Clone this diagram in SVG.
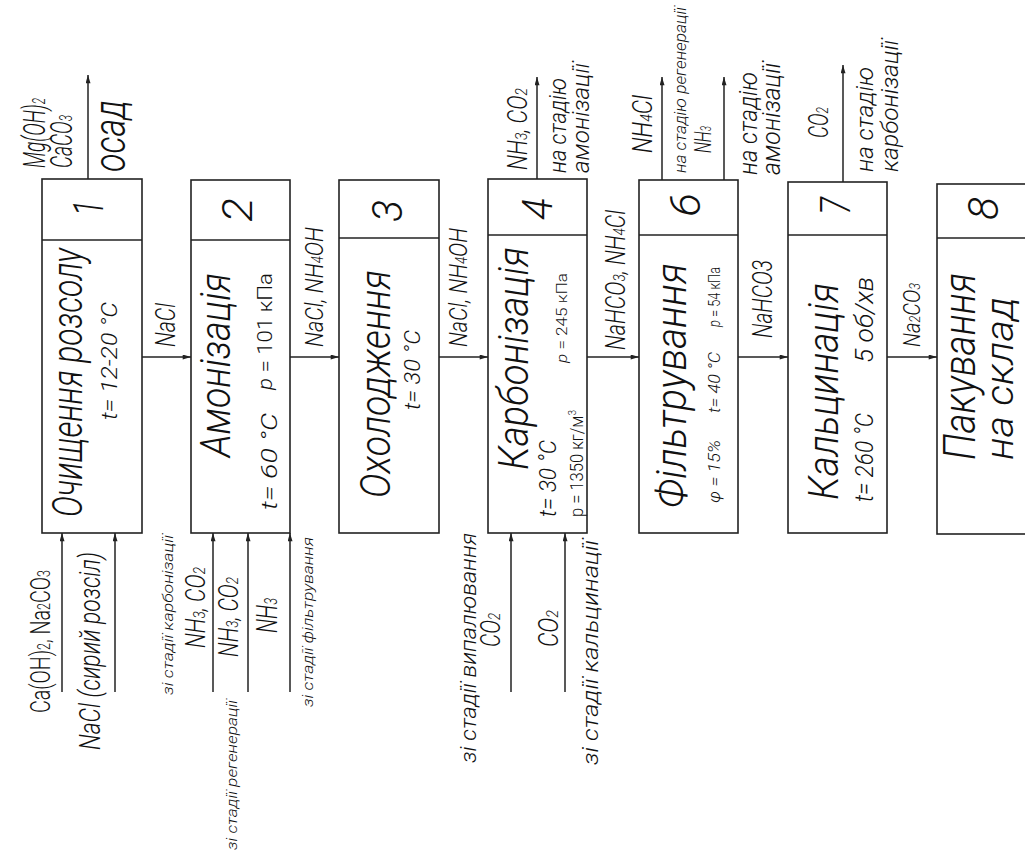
<svg xmlns="http://www.w3.org/2000/svg" width="1025" height="854" viewBox="0 0 1025 854">
<defs>
<style>
.t{font-family:Roboto,"Liberation Sans",Arial,sans-serif;font-weight:300;font-style:italic;fill:#111}
.u{font-family:Roboto,"Liberation Sans",Arial,sans-serif;font-weight:300;font-style:normal;fill:#111}
.b{fill:#fff;stroke:#222;stroke-width:1.6}
.l{stroke:#222;stroke-width:1.5;fill:none}
.c{stroke:#222;stroke-width:1.5;fill:none;marker-end:url(#a)}
</style>
<marker id="a" viewBox="0 0 10 6" refX="10" refY="3" markerWidth="9" markerHeight="5" markerUnits="userSpaceOnUse" orient="auto"><path d="M0,0 L10,3 L0,6 z" fill="#222"/></marker>
</defs>
<rect width="1025" height="854" fill="#fff"/>

<g id="connectors">
<path class="c" d="M142,357 H191"/>
<path class="c" d="M290,357 H339"/>
<path class="c" d="M439,357 H488"/>
<path class="c" d="M587,357 H639"/>
<path class="c" d="M738,357 H788"/>
<path class="c" d="M887,357 H937"/>
<path class="c" d="M88,179 V75"/>
<path class="c" d="M537,179 V77"/>
<path class="c" d="M662,180 V77"/>
<path class="c" d="M724,180 V77"/>
<path class="c" d="M843,182 V65"/>
<path class="c" d="M62,692 V533"/>
<path class="c" d="M115,692 V533"/>
<path class="c" d="M213,692 V533"/>
<path class="c" d="M248,692 V533"/>
<path class="c" d="M290,692 V533"/>
<path class="c" d="M511,692 V533"/>
<path class="c" d="M565,692 V533"/>
</g>

<g id="node1">
<rect class="b" x="42" y="179" width="100" height="354"/>
<path class="l" d="M42,240 H142"/>
<text class="t" transform="translate(103,216) rotate(-90)" font-size="42" textLength="16" lengthAdjust="spacingAndGlyphs">1</text>
<text class="t" transform="translate(82,517) rotate(-90)" font-size="42" textLength="269" lengthAdjust="spacingAndGlyphs">Очищення розсолу</text>
<text class="t" transform="translate(117,420) rotate(-90)" font-size="22" textLength="118" lengthAdjust="spacingAndGlyphs">t= 12-20 °C</text>
</g>
<g id="node1-labels">
<text class="t" transform="translate(45,168) rotate(-90)" font-size="31" textLength="70" lengthAdjust="spacingAndGlyphs">Mg(OH)<tspan font-size="19">2</tspan></text>
<text class="t" transform="translate(72,168) rotate(-90)" font-size="31" textLength="53" lengthAdjust="spacingAndGlyphs">CaCO<tspan font-size="19">3</tspan></text>
<text class="t" transform="translate(125,172) rotate(-90)" font-size="44" textLength="72" lengthAdjust="spacingAndGlyphs">осад</text>
<text class="u" transform="translate(50,713) rotate(-90)" font-size="28" textLength="143" lengthAdjust="spacingAndGlyphs">Ca(OH)<tspan font-size="18">2</tspan>, Na<tspan font-size="18">2</tspan>CO<tspan font-size="18">3</tspan></text>
<text class="t" transform="translate(100,750) rotate(-90)" font-size="30" textLength="198" lengthAdjust="spacingAndGlyphs">NaCl (сирий розсіл)</text>
<text class="t" transform="translate(175,347) rotate(-90)" font-size="27" textLength="44" lengthAdjust="spacingAndGlyphs">NaCl</text>
</g>

<g id="node2">
<rect class="b" x="191" y="180" width="99" height="353"/>
<path class="l" d="M191,240 H290"/>
<text class="t" transform="translate(252,222) rotate(-90)" font-size="42" textLength="24" lengthAdjust="spacingAndGlyphs">2</text>
<text class="t" transform="translate(230,457) rotate(-90)" font-size="42" textLength="184" lengthAdjust="spacingAndGlyphs">Амонізація</text>
<text class="t" transform="translate(277,510) rotate(-90)" font-size="22" textLength="97" lengthAdjust="spacingAndGlyphs">t= 60 °C</text>
<text class="u" transform="translate(272,390) rotate(-90)" font-size="20" textLength="117" lengthAdjust="spacingAndGlyphs"><tspan font-style="italic">p</tspan> = 101 кПа</text>
</g>
<g id="node2-labels">
<text class="t" transform="translate(173,695) rotate(-90)" font-size="15" textLength="160" lengthAdjust="spacingAndGlyphs">зі стадії карбонізації</text>
<text class="t" transform="translate(205,648) rotate(-90)" font-size="27" textLength="81" lengthAdjust="spacingAndGlyphs">NH<tspan font-size="17">3</tspan>, CO<tspan font-size="17">2</tspan></text>
<text class="t" transform="translate(238,657) rotate(-90)" font-size="27" textLength="80" lengthAdjust="spacingAndGlyphs">NH<tspan font-size="17">3</tspan>, CO<tspan font-size="17">2</tspan></text>
<text class="t" transform="translate(277,633) rotate(-90)" font-size="29" textLength="35" lengthAdjust="spacingAndGlyphs">NH<tspan font-size="18">3</tspan></text>
<text class="t" transform="translate(237,850) rotate(-90)" font-size="14" textLength="150" lengthAdjust="spacingAndGlyphs">зі стадії регенерації</text>
<text class="t" transform="translate(313,707) rotate(-90)" font-size="15" textLength="170" lengthAdjust="spacingAndGlyphs">зі стадії фільтрування</text>
<text class="t" transform="translate(323,347) rotate(-90)" font-size="26" textLength="120" lengthAdjust="spacingAndGlyphs">NaCl, NH<tspan font-size="16">4</tspan>OH</text>
</g>

<g id="node3">
<rect class="b" x="339" y="180" width="100" height="353"/>
<path class="l" d="M339,238 H439"/>
<text class="t" transform="translate(402,222) rotate(-90)" font-size="42" textLength="22" lengthAdjust="spacingAndGlyphs">3</text>
<text class="t" transform="translate(390,498) rotate(-90)" font-size="42" textLength="228" lengthAdjust="spacingAndGlyphs">Охолодження</text>
<text class="t" transform="translate(420,410) rotate(-90)" font-size="22" textLength="80" lengthAdjust="spacingAndGlyphs">t= 30 °C</text>
</g>
<g id="node3-labels">
<text class="t" transform="translate(467,347) rotate(-90)" font-size="26" textLength="119" lengthAdjust="spacingAndGlyphs">NaCl, NH<tspan font-size="16">4</tspan>OH</text>
</g>

<g id="node4">
<rect class="b" x="488" y="179" width="99" height="354"/>
<path class="l" d="M488,235 H587"/>
<text class="t" transform="translate(552,220) rotate(-90)" font-size="42" textLength="22" lengthAdjust="spacingAndGlyphs">4</text>
<text class="t" transform="translate(528,470) rotate(-90)" font-size="42" textLength="223" lengthAdjust="spacingAndGlyphs">Карбонізація</text>
<text class="t" transform="translate(556,517) rotate(-90)" font-size="24" textLength="77" lengthAdjust="spacingAndGlyphs">t= 30 °C</text>
<text class="u" transform="translate(583,517) rotate(-90)" font-size="18" textLength="107" lengthAdjust="spacingAndGlyphs">p = 1350 кг/м<tspan font-size="11" dy="-7">3</tspan></text>
<text class="u" transform="translate(567,363) rotate(-90)" font-size="14" textLength="90" lengthAdjust="spacingAndGlyphs"><tspan font-style="italic">p</tspan> = 245 кПа</text>
</g>
<g id="node4-labels">
<text class="t" transform="translate(527,170) rotate(-90)" font-size="27" textLength="82" lengthAdjust="spacingAndGlyphs">NH<tspan font-size="17">3</tspan>, CO<tspan font-size="17">2</tspan></text>
<text class="t" transform="translate(566,173) rotate(-90)" font-size="24" textLength="95" lengthAdjust="spacingAndGlyphs">на стадію</text>
<text class="t" transform="translate(589,173) rotate(-90)" font-size="24" textLength="110" lengthAdjust="spacingAndGlyphs">амонізації</text>
<text class="t" transform="translate(625,350) rotate(-90)" font-size="27" textLength="140" lengthAdjust="spacingAndGlyphs">NaHCO<tspan font-size="17">3</tspan>, NH<tspan font-size="17">4</tspan>Cl</text>
<text class="t" transform="translate(476,763) rotate(-90)" font-size="22" textLength="230" lengthAdjust="spacingAndGlyphs">зі стадії випалювання</text>
<text class="t" transform="translate(500,647) rotate(-90)" font-size="27" textLength="34" lengthAdjust="spacingAndGlyphs">CO<tspan font-size="17">2</tspan></text>
<text class="t" transform="translate(558,647) rotate(-90)" font-size="27" textLength="37" lengthAdjust="spacingAndGlyphs">CO<tspan font-size="17">2</tspan></text>
<text class="t" transform="translate(598,765) rotate(-90)" font-size="22" textLength="225" lengthAdjust="spacingAndGlyphs">зі стадії кальцинації</text>
</g>

<g id="node6">
<rect class="b" x="639" y="180" width="99" height="353"/>
<path class="l" d="M639,235 H738"/>
<text class="t" transform="translate(700,217) rotate(-90)" font-size="42" textLength="24" lengthAdjust="spacingAndGlyphs">6</text>
<text class="t" transform="translate(686,508) rotate(-90)" font-size="42" textLength="245" lengthAdjust="spacingAndGlyphs">Фільтрування</text>
<text class="t" transform="translate(720,503) rotate(-90)" font-size="17" textLength="63" lengthAdjust="spacingAndGlyphs">φ = 15%</text>
<text class="t" transform="translate(720,413) rotate(-90)" font-size="17" textLength="61" lengthAdjust="spacingAndGlyphs">t= 40 °C</text>
<text class="u" transform="translate(720,327) rotate(-90)" font-size="17" textLength="60" lengthAdjust="spacingAndGlyphs"><tspan font-style="italic">p</tspan> = 54 кПа</text>
</g>
<g id="node6-labels">
<text class="t" transform="translate(652,153) rotate(-90)" font-size="27" textLength="58" lengthAdjust="spacingAndGlyphs">NH<tspan font-size="17">4</tspan>Cl</text>
<text class="t" transform="translate(686,173) rotate(-90)" font-size="16" textLength="166" lengthAdjust="spacingAndGlyphs">на стадію регенерації</text>
<text class="t" transform="translate(711,153) rotate(-90)" font-size="24" textLength="27" lengthAdjust="spacingAndGlyphs">NH<tspan font-size="15">3</tspan></text>
<text class="t" transform="translate(757,175) rotate(-90)" font-size="26" textLength="103" lengthAdjust="spacingAndGlyphs">на стадію</text>
<text class="t" transform="translate(780,175) rotate(-90)" font-size="26" textLength="112" lengthAdjust="spacingAndGlyphs">амонізації</text>
<text class="t" transform="translate(772,338) rotate(-90)" font-size="27" textLength="78" lengthAdjust="spacingAndGlyphs">NaHCO3</text>
</g>

<g id="node7">
<rect class="b" x="788" y="182" width="99" height="351"/>
<path class="l" d="M788,235 H887"/>
<text class="t" transform="translate(850,215) rotate(-90)" font-size="42" textLength="18" lengthAdjust="spacingAndGlyphs">7</text>
<text class="t" transform="translate(838,500) rotate(-90)" font-size="42" textLength="217" lengthAdjust="spacingAndGlyphs">Кальцинація</text>
<text class="t" transform="translate(873,502) rotate(-90)" font-size="26" textLength="89" lengthAdjust="spacingAndGlyphs">t= 260 °C</text>
<text class="t" transform="translate(873,363) rotate(-90)" font-size="26" textLength="86" lengthAdjust="spacingAndGlyphs">5 об/хв</text>
</g>
<g id="node7-labels">
<text class="t" transform="translate(828,138) rotate(-90)" font-size="27" textLength="31" lengthAdjust="spacingAndGlyphs">CO<tspan font-size="17">2</tspan></text>
<text class="t" transform="translate(873,172) rotate(-90)" font-size="24" textLength="105" lengthAdjust="spacingAndGlyphs">на стадію</text>
<text class="t" transform="translate(898,172) rotate(-90)" font-size="24" textLength="132" lengthAdjust="spacingAndGlyphs">карбонізації</text>
<text class="t" transform="translate(920,347) rotate(-90)" font-size="24" textLength="64" lengthAdjust="spacingAndGlyphs">Na<tspan font-size="15">2</tspan>CO<tspan font-size="15">3</tspan></text>
</g>

<g id="node8">
<rect class="b" x="937" y="184" width="110" height="350"/>
<path class="l" d="M937,238 H1047"/>
<text class="t" transform="translate(998,220) rotate(-90)" font-size="42" textLength="23" lengthAdjust="spacingAndGlyphs">8</text>
<text class="t" transform="translate(975,460) rotate(-90)" font-size="44" textLength="187" lengthAdjust="spacingAndGlyphs">Пакування</text>
<text class="t" transform="translate(1013,460) rotate(-90)" font-size="38" textLength="163" lengthAdjust="spacingAndGlyphs">на склад</text>
</g>
</svg>
